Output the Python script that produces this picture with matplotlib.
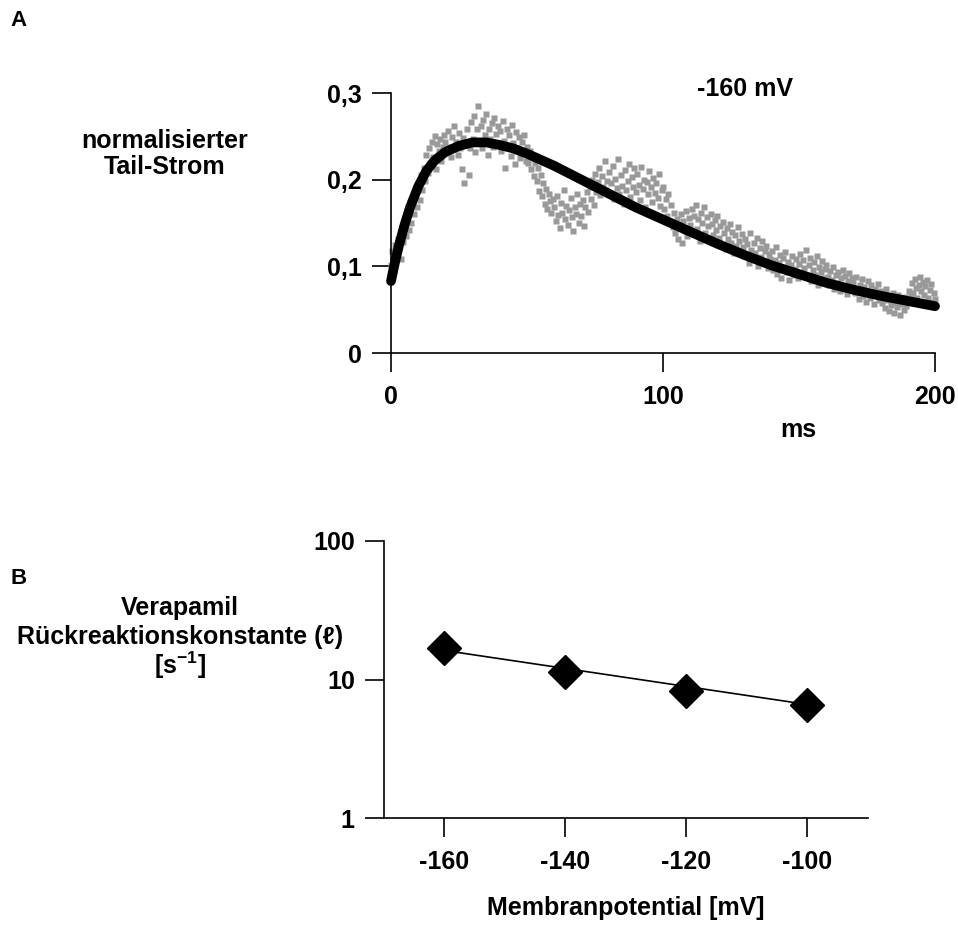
import numpy as np
import matplotlib
matplotlib.use("Agg")
import matplotlib.pyplot as plt

plt.rcParams['font.family'] = ['Liberation Sans', 'DejaVu Sans']
plt.rcParams['font.weight'] = 'bold'
plt.rcParams['axes.unicode_minus'] = False
plt.rcParams['mathtext.fontset'] = 'custom'
plt.rcParams['mathtext.rm'] = 'Liberation Sans:bold'
plt.rcParams['mathtext.bf'] = 'Liberation Sans:bold'

# --- Panel A: Tail-Strom bei -160 mV (Messpunkte alle 0,5 ms) ---
dt_ms = 0.5
strom = [
    0.102, 0.118, 0.095, 0.125, 0.110, 0.132, 0.121, 0.108, 0.140, 0.128, 0.150, 0.135, 0.158, 0.142, 0.165, 0.150, 0.172, 0.160, 0.185, 0.168,
    0.195, 0.176, 0.205, 0.188, 0.214, 0.198, 0.228, 0.208, 0.236, 0.219, 0.244, 0.226, 0.250, 0.212, 0.241, 0.233, 0.247, 0.222, 0.238, 0.252,
    0.243, 0.231, 0.256, 0.238, 0.226, 0.249, 0.262, 0.235, 0.244, 0.228, 0.254, 0.237, 0.212, 0.248, 0.196, 0.241, 0.258, 0.205, 0.236, 0.266,
    0.247, 0.273, 0.232, 0.258, 0.285, 0.244, 0.262, 0.237, 0.269, 0.251, 0.276, 0.228, 0.259, 0.247, 0.265, 0.238, 0.271, 0.253, 0.242, 0.262,
    0.256, 0.233, 0.268, 0.245, 0.214, 0.259, 0.238, 0.251, 0.227, 0.263, 0.242, 0.218, 0.255, 0.236, 0.249, 0.225, 0.244, 0.232, 0.251, 0.221,
    0.238, 0.219, 0.233, 0.212, 0.226, 0.204, 0.219, 0.198, 0.214, 0.187, 0.205, 0.181, 0.196, 0.172, 0.189, 0.166, 0.183, 0.175, 0.161, 0.178,
    0.168, 0.152, 0.181, 0.159, 0.144, 0.173, 0.162, 0.188, 0.155, 0.170, 0.148, 0.165, 0.179, 0.157, 0.141, 0.168, 0.160, 0.184, 0.150, 0.172,
    0.158, 0.176, 0.147, 0.169, 0.186, 0.163, 0.192, 0.178, 0.200, 0.171, 0.207, 0.186, 0.197, 0.213, 0.182, 0.204, 0.191, 0.222, 0.188, 0.199,
    0.209, 0.184, 0.196, 0.216, 0.178, 0.201, 0.190, 0.224, 0.183, 0.205, 0.193, 0.172, 0.211, 0.188, 0.199, 0.218, 0.180, 0.203, 0.192, 0.213,
    0.186, 0.207, 0.194, 0.176, 0.215, 0.189, 0.200, 0.168, 0.197, 0.183, 0.210, 0.191, 0.174, 0.202, 0.185, 0.196, 0.179, 0.206, 0.170, 0.188,
    0.192, 0.166, 0.178, 0.158, 0.184, 0.150, 0.171, 0.145, 0.162, 0.138, 0.155, 0.131, 0.148, 0.160, 0.127, 0.152, 0.141, 0.164, 0.135, 0.156,
    0.148, 0.166, 0.137, 0.158, 0.171, 0.143, 0.155, 0.129, 0.162, 0.150, 0.168, 0.139, 0.157, 0.146, 0.131, 0.160, 0.149, 0.136, 0.153, 0.142,
    0.158, 0.133, 0.146, 0.125, 0.151, 0.138, 0.120, 0.144, 0.131, 0.149, 0.127, 0.140, 0.115, 0.136, 0.124, 0.145, 0.129, 0.118, 0.137, 0.122,
    0.131, 0.112, 0.126, 0.104, 0.138, 0.119, 0.108, 0.127, 0.115, 0.133, 0.100, 0.121, 0.111, 0.129, 0.106, 0.118, 0.124, 0.098, 0.114, 0.109,
    0.118, 0.096, 0.107, 0.122, 0.091, 0.104, 0.113, 0.087, 0.110, 0.099, 0.116, 0.093, 0.105, 0.084, 0.101, 0.112, 0.090, 0.097, 0.108, 0.086,
    0.103, 0.114, 0.092, 0.107, 0.098, 0.119, 0.088, 0.101, 0.110, 0.083, 0.096, 0.105, 0.090, 0.112, 0.079, 0.099, 0.093, 0.106, 0.086, 0.097,
    0.102, 0.088, 0.079, 0.095, 0.084, 0.099, 0.074, 0.090, 0.081, 0.093, 0.071, 0.086, 0.096, 0.077, 0.089, 0.068, 0.083, 0.092, 0.075, 0.087,
    0.081, 0.069, 0.088, 0.074, 0.062, 0.079, 0.085, 0.066, 0.076, 0.059, 0.072, 0.083, 0.064, 0.078, 0.070, 0.057, 0.074, 0.067, 0.080, 0.061,
    0.071, 0.058, 0.066, 0.052, 0.074, 0.061, 0.048, 0.064, 0.055, 0.069, 0.046, 0.059, 0.053, 0.067, 0.044, 0.057, 0.062, 0.050, 0.065, 0.054,
    0.060, 0.072, 0.066, 0.081, 0.069, 0.085, 0.075, 0.063, 0.079, 0.088, 0.071, 0.082, 0.067, 0.077, 0.084, 0.064, 0.073, 0.080, 0.059, 0.069,
    0.062,
]
zeit = np.arange(len(strom)) * dt_ms

# angepasste Kurve
fit_t = [0, 1, 2, 3, 5, 7, 10, 13, 16, 20, 25, 30, 35, 40, 45, 50, 60, 70, 80, 90,
         100, 110, 120, 130, 140, 150, 160, 170, 180, 190, 200]
fit_i = [0.083, 0.098, 0.112, 0.125, 0.148, 0.168, 0.192, 0.210, 0.222, 0.232, 0.239, 0.243,
         0.243, 0.240, 0.236, 0.230, 0.216, 0.200, 0.184, 0.168, 0.154, 0.140, 0.126, 0.113,
         0.101, 0.091, 0.081, 0.073, 0.066, 0.060, 0.054]

a_xticks = [0, 100, 200]
a_yticks = [0, 0.1, 0.2, 0.3]
a_yticklabels = ['0', '0,1', '0,2', '0,3']

# --- Panel B: Rueckreaktionskonstante ---
potential = [-160, -140, -120, -100]
konstante = [16.9, 11.4, 8.3, 6.5]
reg_x = [-160, -100]
reg_y = [16.2, 6.6]
b_xticks = [-160, -140, -120, -100]
b_yticks = [1, 10, 100]
b_yticklabels = ['1', '10', '100']

W, H = 958, 926
fig = plt.figure(figsize=(W / 100, H / 100), dpi=100)

def px(x, y):
    return x / W, 1 - y / H

fs = 18

def style(ax):
    for s in ['top', 'right']:
        ax.spines[s].set_visible(False)
    for s in ['left', 'bottom']:
        ax.spines[s].set_linewidth(1.2)
    ax.tick_params(direction='out', length=14, width=1.2, labelsize=fs, pad=7)
    ax.tick_params(axis='x', pad=9)

# Panel A
axA = fig.add_axes([391 / W, 1 - 353 / H, (935 - 391) / W, (353 - 93) / H])
axA.plot(zeit, strom, 's', ms=4.3, color='#999999', mec='none', zorder=2, clip_on=False)
axA.plot(fit_t, fit_i, '-', color='black', lw=7, solid_capstyle='round', zorder=3, clip_on=False)
axA.set_xlim(0, 200)
axA.set_ylim(0, 0.3)
axA.set_xticks(a_xticks)
axA.set_yticks(a_yticks)
axA.set_yticklabels(a_yticklabels)
style(axA)

# Panel B
axB = fig.add_axes([384 / W, 1 - 818 / H, (868 - 384) / W, (818 - 541) / H])
axB.plot(reg_x, reg_y, '-', color='black', lw=1.2)
axB.plot(potential, konstante, 'D', ms=17, color='black')
axB.set_yscale('log')
axB.set_xlim(-170, -90)
axB.set_ylim(1, 100)
axB.set_xticks(b_xticks)
axB.set_yticks(b_yticks)
axB.set_yticklabels(b_yticklabels)
axB.minorticks_off()
style(axB)

# Beschriftungen
fig.text(*px(10, 20), 'A', fontsize=fs - 2, ha='left', va='center')
fig.text(*px(10, 578), 'B', fontsize=fs - 2, ha='left', va='center')
fig.text(*px(165, 154), 'normalisierter\nTail-Strom', fontsize=fs, ha='center', va='center',
         linespacing=1.15)
fig.text(*px(745, 89), '-160 mV', fontsize=fs, ha='center', va='center')
fig.text(*px(798, 430), 'ms', fontsize=fs, ha='center', va='center')
fig.text(*px(180, 608), 'Verapamil', fontsize=fs, ha='center', va='center')
fig.text(*px(180, 637), 'Rückreaktionskonstante (ℓ)', fontsize=fs, ha='center', va='center')
fig.text(*px(180, 665), '[s$^{\\mathregular{-1}}$]', fontsize=fs, ha='center', va='center')
fig.text(*px(626, 908), 'Membranpotential [mV]', fontsize=fs, ha='center', va='center')

fig.savefig('out.png', dpi=100)
